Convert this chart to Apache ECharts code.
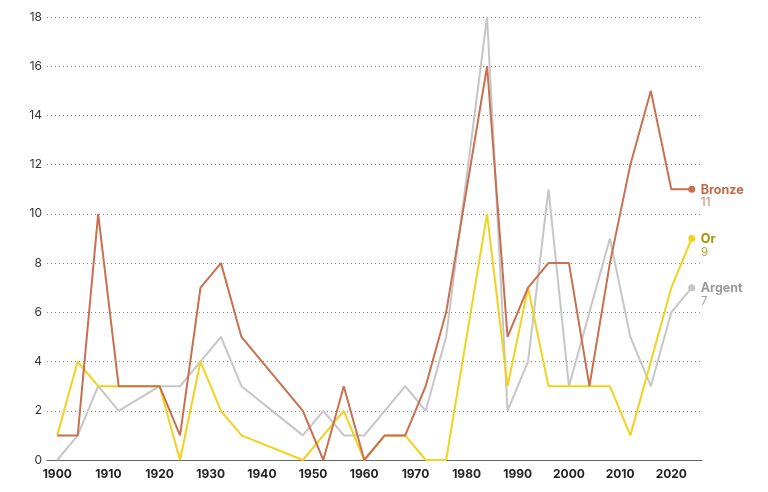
<!DOCTYPE html>
<html>
<head>
<meta charset="utf-8">
<script src="https://cdn.jsdelivr.net/npm/echarts@6/dist/echarts.min.js"></script>
<style>
html,body{margin:0;padding:0;background:#fff;}
#chart{width:768px;height:492px;}
</style>
</head>
<body>
<div id="chart"></div>
<script>
const years  = [1900,1904,1908,1912,1920,1924,1928,1932,1936,1948,1952,1956,1960,1964,1968,1972,1976,1984,1988,1992,1996,2000,2004,2008,2012,2016,2020,2024];
const bronze = [1,1,10,3,3,1,7,8,5,2,0,3,0,1,1,3,6,16,5,7,8,8,3,8,12,15,11,11];
const argent = [0,1,3,2,3,3,4,5,3,1,2,1,1,2,3,2,5,18,2,4,11,3,6,9,5,3,6,7];
const or     = [1,4,3,3,3,0,4,2,1,0,1,2,0,1,1,0,0,10,3,7,3,3,3,3,1,4,7,9];
const yTicks = [0,2,4,6,8,10,12,14,16,18];

const FONT = 'Inter, Roboto, "Noto Sans", sans-serif';

function build(vals){
  return vals.map((v,i)=>{
    if(i===vals.length-1) return {value:[years[i],v], symbol:'circle', symbolSize:7};
    return {value:[years[i],v]};
  });
}

function mk(name, vals, lineColor, nameColor, valColor, z){
  return {
    name: name,
    type: 'line',
    data: build(vals),
    symbol: 'none',
    showSymbol: true,
    z: z,
    lineStyle: {color: lineColor, width: 2},
    itemStyle: {color: lineColor},
    emphasis: {disabled: true},
    animation: false,
    endLabel: {
      show: true,
      distance: 9,
      offset: [0, 7],
      formatter: p => '{n|' + name + '}\n{v|' + p.value[1] + '}',
      rich: {
        n: {fontFamily: FONT, fontWeight: 'bold', fontSize: 12.5, color: nameColor, lineHeight: 13},
        v: {fontFamily: FONT, fontWeight: 'normal', fontSize: 12, color: valColor, lineHeight: 13}
      }
    }
  };
}

const chart = echarts.init(document.getElementById('chart'));
chart.setOption({
  animation: false,
  backgroundColor: '#fff',
  grid: {left: 47, right: 66, top: 17, bottom: 32, containLabel: false},
  xAxis: {
    type: 'value',
    min: 1898, max: 2026, interval: 2,
    axisLine: {show: true, lineStyle: {color: '#666', width: 1}},
    axisTick: {show: false},
    splitLine: {show: false},
    axisLabel: {
      margin: 8,
      fontFamily: FONT, fontWeight: 'bold', fontSize: 12, color: '#222',
      formatter: v => (v % 10 === 0 ? String(v) : '')
    }
  },
  yAxis: {
    type: 'value',
    min: 0, max: 18, interval: 2,
    axisLine: {show: false},
    axisTick: {show: false},
    axisLabel: {
      margin: 5,
      fontFamily: FONT, fontSize: 12, color: '#333',
      formatter: v => (yTicks.indexOf(v) >= 0 ? String(v) : '')
    },
    splitLine: {show: true, lineStyle: {color: '#888', width: 1, type: [1, 3]}}
  },
  series: [
    mk('Argent', argent, '#c6c6c6', '#9a9a9a', '#a8a8a8', 2),
    mk('Or', or, '#f3d21f', '#a99200', '#bba63a', 3),
    mk('Bronze', bronze, '#c8704f', '#c0694b', '#c98a70', 4)
  ]
});
</script>
</body>
</html>
